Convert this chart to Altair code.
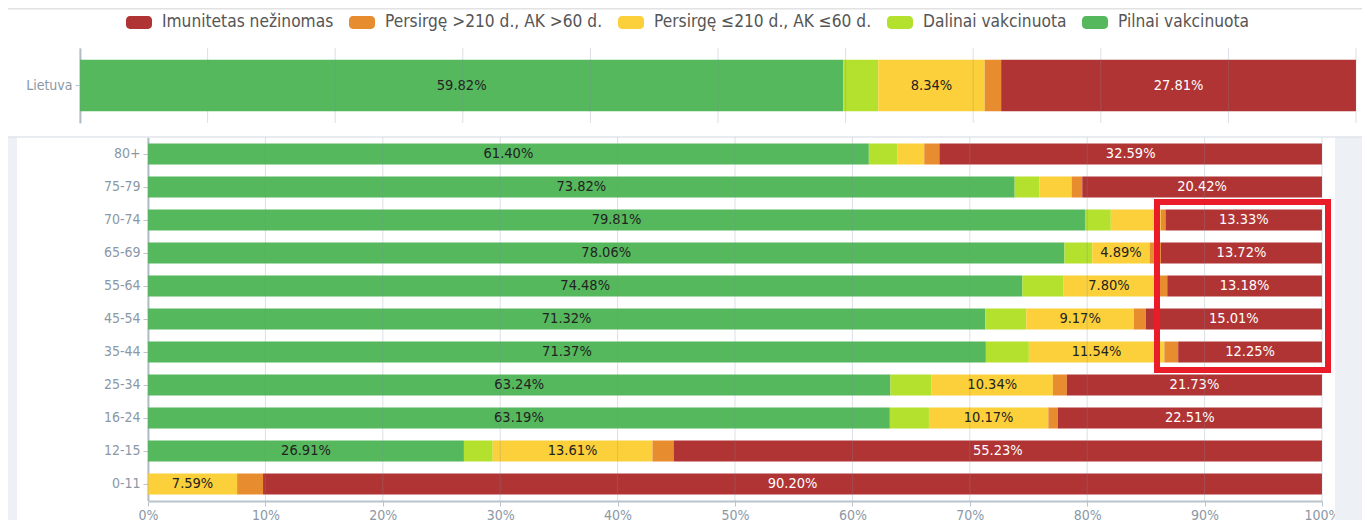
import altair as alt
import pandas as pd

# ---------------- data ----------------
stack_categories = [
    "Pilnai vakcinuota",
    "Dalinai vakcinuota",
    "Persirgę ≤210 d., AK ≤60 d.",
    "Persirgę >210 d., AK >60 d.",
    "Imunitetas nežinomas",
]
legend_order = stack_categories[::-1]
legend_colors = ["#b03434", "#e88c30", "#fcd03a", "#b4e02e", "#55b85d"]

top_groups = ["Lietuva"]
top_pilnai = [59.82]
top_dalinai = [2.74]
top_persirge_le = [8.34]
top_persirge_gt = [1.29]
top_nezinomas = [27.81]

age_groups = ["80+", "75-79", "70-74", "65-69", "55-64", "45-54", "35-44",
              "25-34", "16-24", "12-15", "0-11"]
pilnai = [61.40, 73.82, 79.81, 78.06, 74.48, 71.32, 71.37, 63.24, 63.19, 26.91, 0.0]
dalinai = [2.45, 2.12, 2.20, 2.37, 3.47, 3.49, 3.66, 3.50, 3.33, 2.45, 0.0]
persirge_le = [2.27, 2.73, 4.26, 4.89, 7.80, 9.17, 11.54, 10.34, 10.17, 13.61, 7.59]
persirge_gt = [1.29, 0.91, 0.40, 0.96, 1.07, 1.01, 1.18, 1.19, 0.80, 1.80, 2.21]
nezinomas = [32.59, 20.42, 13.33, 13.72, 13.18, 15.01, 12.25, 21.73, 22.51, 55.23, 90.20]

tick_values = [0, 10, 20, 30, 40, 50, 60, 70, 80, 90, 100]
label_min = 4.5


def build(groups, series):
    rows = []
    for gi, g in enumerate(groups):
        start = 0.0
        for ci, cat in enumerate(stack_categories):
            v = series[ci][gi]
            rows.append({
                "group": g, "cat": cat, "order": ci, "value": v,
                "start": start, "end": start + v, "mid": start + v / 2,
                "label": f"{v:.2f}%", "show": v >= label_min,
            })
            start += v
    return pd.DataFrame(rows)


top_df = build(top_groups, [top_pilnai, top_dalinai, top_persirge_le,
                            top_persirge_gt, top_nezinomas])
bot_df = build(age_groups, [pilnai, dalinai, persirge_le, persirge_gt, nezinomas])
ticks_df = pd.DataFrame({"t": tick_values})
one = pd.DataFrame({"a": [0]})

# ---------------- styling ----------------
W, H = 1354, 512
FONT = "DejaVu Sans Condensed, Liberation Sans Narrow, Roboto"
AXIS_COL = "#b9c3cd"
LAB_COL = "#8b98a6"

round_rect = ("M-0.7,-0.5 L0.7,-0.5 A0.3,0.3 0 0 1 1,-0.2 L1,0.2 "
              "A0.3,0.3 0 0 1 0.7,0.5 L-0.7,0.5 A0.3,0.3 0 0 1 -1,0.2 "
              "L-1,-0.2 A0.3,0.3 0 0 1 -0.7,-0.5 Z")

legend = alt.Legend(orient="none", legendX=118, legendY=1, direction="horizontal",
                    title=None, symbolType=round_rect, symbolSize=676,
                    symbolStrokeWidth=0, symbolOpacity=1, labelFontSize=17.2,
                    labelColor="#555555", labelFont=FONT, labelOffset=10,
                    columnPadding=14, padding=0, labelLimit=400)
color = alt.Color("cat:N", scale=alt.Scale(domain=legend_order, range=legend_colors),
                  legend=legend)
text_color = alt.condition(alt.datum.cat == "Imunitetas nežinomas",
                           alt.value("#ffffff"), alt.value("#222222"))

# ---------------- top panel (Lietuva) ----------------
top_x = alt.Scale(domain=[0, 100], range=[72, 1348], nice=False, zero=False)
top_y = alt.Scale(domain=top_groups, range=[40, 115], paddingInner=0.186,
                  paddingOuter=0.186)
top_yaxis = alt.Axis(orient="left", offset=-72, title=None, domainColor=AXIS_COL,
                     domainWidth=2, tickColor=AXIS_COL, tickSize=5, labelColor=LAB_COL,
                     labelFont=FONT, labelFontSize=14, labelPadding=3, grid=False)

top_bars = alt.Chart(top_df).mark_bar().encode(
    x=alt.X("start:Q", scale=top_x, axis=None),
    x2="end:Q",
    y=alt.Y("group:N", scale=top_y, axis=top_yaxis),
    color=color,
)
top_text = alt.Chart(top_df).transform_filter(alt.datum.show).mark_text(
    font=FONT, fontSize=14.5).encode(
    x=alt.X("mid:Q", scale=top_x, axis=None),
    y=alt.Y("group:N", scale=top_y, axis=top_yaxis),
    text="label:N",
    color=text_color,
)
top_grid = alt.Chart(ticks_df).mark_rule(color="#7d8fa3", opacity=0.28).encode(
    x=alt.X("t:Q", scale=top_x, axis=None),
    y=alt.value(40), y2=alt.value(115),
)
top_layer = alt.layer(top_bars, top_text, top_grid)

# ---------------- bottom panel (age groups) ----------------
bot_x = alt.Scale(domain=[0, 100], range=[140, 1314], nice=False, zero=False)
bot_y = alt.Scale(domain=age_groups, range=[129.5, 492.5], paddingInner=0.3636,
                  paddingOuter=0.1818)
bot_yaxis = alt.Axis(orient="left", offset=-140, title=None, domainColor=AXIS_COL,
                     domainWidth=2, tickColor=AXIS_COL, tickSize=5, labelColor=LAB_COL,
                     labelFont=FONT, labelFontSize=14, labelPadding=3, grid=False)
bot_xaxis = alt.Axis(orient="bottom", offset=-19, title=None, values=tick_values,
                     labelExpr="datum.value + '%'", domainColor=AXIS_COL, domainWidth=2,
                     tickColor=AXIS_COL, tickSize=5, labelColor=LAB_COL, labelFont=FONT,
                     labelFontSize=14, labelPadding=2, grid=False, labelFlush=False)

bot_bars = alt.Chart(bot_df).mark_bar().encode(
    x=alt.X("start:Q", scale=bot_x, axis=bot_xaxis),
    x2="end:Q",
    y=alt.Y("group:N", scale=bot_y, axis=bot_yaxis),
    color=color,
)
bot_text = alt.Chart(bot_df).transform_filter(alt.datum.show).mark_text(
    font=FONT, fontSize=14.5).encode(
    x=alt.X("mid:Q", scale=bot_x, axis=bot_xaxis),
    y=alt.Y("group:N", scale=bot_y, axis=bot_yaxis),
    text="label:N",
    color=text_color,
)
bot_grid = alt.Chart(ticks_df).mark_rule(color="#7d8fa3", opacity=0.28).encode(
    x=alt.X("t:Q", scale=bot_x, axis=bot_xaxis),
    y=alt.value(129.5), y2=alt.value(493),
)
highlight = alt.Chart(one).mark_rect(fillOpacity=0, stroke="#ea1c2a",
                                     strokeWidth=6).encode(
    x=alt.value(1149), x2=alt.value(1320), y=alt.value(194), y2=alt.value(362),
)
bot_layer = alt.layer(bot_bars, bot_text, bot_grid, highlight)

# ---------------- page decoration ----------------
left_strip = alt.Chart(one).mark_rect(color="#edf1f5").encode(
    x=alt.value(-1), x2=alt.value(9), y=alt.value(129), y2=alt.value(H))
right_strip = alt.Chart(one).mark_rect(color="#edf1f5").encode(
    x=alt.value(1327), x2=alt.value(W), y=alt.value(129), y2=alt.value(H))
card_line = alt.Chart(one).mark_rule(color="#e0e5ea", strokeWidth=1.5).encode(
    x=alt.value(-1), x2=alt.value(W), y=alt.value(129))
top_line = alt.Chart(one).mark_rule(color="#e2e2e2", strokeWidth=1.5).encode(
    x=alt.value(-1), x2=alt.value(W), y=alt.value(0.75))

chart = alt.layer(left_strip, right_strip, card_line, top_line, top_layer,
                  bot_layer).resolve_scale(
    x="independent", y="independent"
).properties(
    width=W, height=H, autosize=alt.AutoSizeParams(type="none"), padding=0,
    background="white"
).configure_view(strokeWidth=0)

chart.save("out.html", embed_options={"renderer": "svg", "actions": False})
